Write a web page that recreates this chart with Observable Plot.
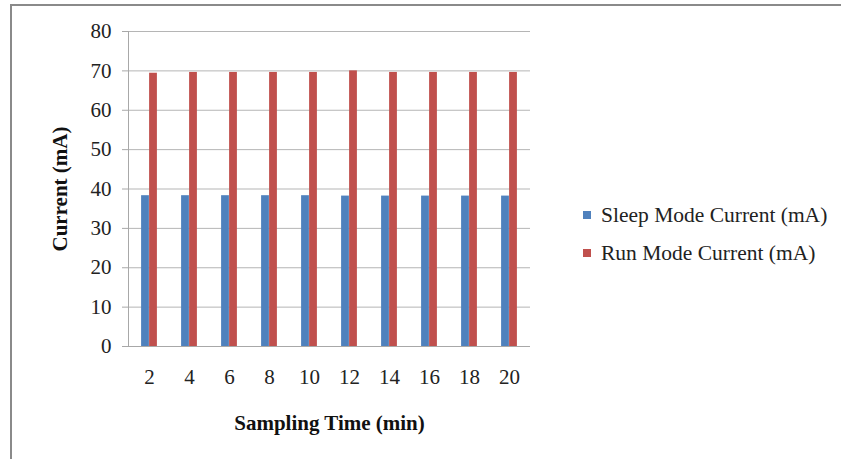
<!DOCTYPE html>
<html>
<head>
<meta charset="utf-8">
<script src="https://cdn.jsdelivr.net/npm/d3@7"></script>
<script src="https://cdn.jsdelivr.net/npm/@observablehq/plot@0.6"></script>
<style>
  html, body { margin: 0; padding: 0; background: #fff; }
  #wrap { position: relative; width: 841px; height: 459px; overflow: hidden; background: #fff; font-family: "Liberation Serif", "Times New Roman", serif; }
  #border { position: absolute; left: 10px; top: 4px; width: 900px; height: 600px; border-left: 2px solid #8a8a8a; border-top: 2px solid #8a8a8a; box-sizing: border-box; }
  #chart { position: absolute; left: 0; top: 0; }
  #chart svg { font-family: "Liberation Serif", "Times New Roman", serif; }
  g[aria-label="y-axis label"] text, g[aria-label="x-axis label"] text { font-weight: bold; fill: #111; }
  #legend { position: absolute; left: 583px; top: 196px; font-size: 21.5px; color: #222; }
  .item { display: flex; align-items: center; height: 38px; }
  .sw { width: 8px; height: 8px; margin-right: 10px; }
</style>
</head>
<body>
<div id="wrap">
  <div id="border"></div>
  <div id="chart"></div>
  <div id="legend"></div>
</div>
<script>
const times = [2, 4, 6, 8, 10, 12, 14, 16, 18, 20];
const sleepCurrent = [38.3, 38.3, 38.3, 38.3, 38.3, 38.2, 38.2, 38.2, 38.2, 38.2];
const runCurrent = [69.4, 69.6, 69.6, 69.6, 69.6, 70.0, 69.6, 69.6, 69.6, 69.6];
const seriesNames = ["Sleep Mode Current (mA)", "Run Mode Current (mA)"];
const seriesColors = ["#4F81BD", "#C0504D"];
const yTicks = [0, 10, 20, 30, 40, 50, 60, 70, 80];

const sleepData = times.map((t, i) => ({t, v: sleepCurrent[i]}));
const runData = times.map((t, i) => ({t, v: runCurrent[i]}));

const plot = Plot.plot({
  width: 841,
  height: 459,
  marginLeft: 128,
  marginRight: 311,
  marginTop: 31,
  marginBottom: 113,
  style: {fontSize: "21px", color: "#222", background: "transparent"},
  x: {type: "band", domain: times, padding: 0, label: "Sampling Time (min)"},
  y: {domain: [0, 80], ticks: yTicks, label: "Current (mA)"},
  marks: [
    Plot.gridY(yTicks, {stroke: "#b5b5b5", strokeOpacity: 1}),
    Plot.barY(sleepData, {x: "t", y: "v", fill: seriesColors[0], insetLeft: 16.1, insetRight: 16.1, dx: -4}),
    Plot.barY(runData, {x: "t", y: "v", fill: seriesColors[1], insetLeft: 16.1, insetRight: 16.1, dx: 4}),
    Plot.frame({anchor: "left", stroke: "#a8a8a8"}),
    Plot.ruleY([0], {stroke: "#a8a8a8"}),
    Plot.axisY(yTicks, {tickSize: 6, tickPadding: 11, stroke: "#a8a8a8", label: "Current (mA)", labelAnchor: "center", labelOffset: 76, fontSize: 21, labelArrow: "none"}),
    Plot.axisX(times, {tickSize: 0, tickPadding: 23, label: "Sampling Time (min)", labelAnchor: "center", labelOffset: 83, fontSize: 21, labelArrow: "none"})
  ]
});
document.getElementById("chart").appendChild(plot);

const legend = document.getElementById("legend");
seriesNames.forEach((name, i) => {
  const row = document.createElement("div");
  row.className = "item";
  const sw = document.createElement("span");
  sw.className = "sw";
  sw.style.background = seriesColors[i];
  const tx = document.createElement("span");
  tx.textContent = name;
  row.appendChild(sw);
  row.appendChild(tx);
  legend.appendChild(row);
});
</script>
</body>
</html>
